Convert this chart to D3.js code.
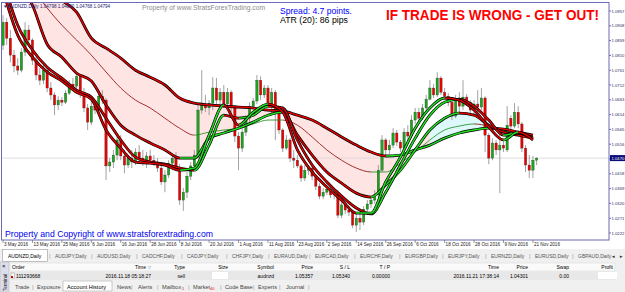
<!DOCTYPE html>
<html><head><meta charset="utf-8">
<script src="https://cdn.jsdelivr.net/npm/d3@7"></script>
<style>
html,body{margin:0;padding:0;background:#fff;overflow:hidden}
svg{display:block;font-family:"Liberation Sans",Arial,sans-serif}
</style></head><body>
<svg id="chart" width="625" height="292"></svg>
<script>
// AUDNZD daily, 3 May 2016 .. 22 Nov 2016
const opens = [1.0844,1.0920,1.0867,1.0811,1.0775,1.0761,1.0821,1.0894,1.0861,1.0794,1.0745,1.0728,1.0761,1.0702,1.0679,1.0646,1.0662,1.0655,1.0685,1.0715,1.0708,1.0741,1.0688,1.0636,1.0589,1.0642,1.0629,1.0675,1.0662,1.0444,1.0457,1.0480,1.0530,1.0477,1.0447,1.0470,1.0457,1.0490,1.0470,1.0463,1.0477,1.0463,1.0457,1.0437,1.0391,1.0414,1.0453,1.0470,1.0440,1.0331,1.0357,1.0410,1.0444,1.0480,1.0629,1.0649,1.0636,1.0652,1.0702,1.0662,1.0688,1.0649,1.0688,1.0636,1.0543,1.0503,1.0556,1.0602,1.0642,1.0659,1.0728,1.0679,1.0702,1.0649,1.0688,1.0629,1.0563,1.0503,1.0530,1.0470,1.0463,1.0444,1.0404,1.0430,1.0437,1.0410,1.0377,1.0344,1.0357,1.0367,1.0348,1.0357,1.0281,1.0315,1.0298,1.0291,1.0248,1.0271,1.0258,1.0301,1.0318,1.0331,1.0348,1.0430,1.0530,1.0497,1.0513,1.0553,1.0523,1.0503,1.0556,1.0543,1.0596,1.0622,1.0602,1.0636,1.0665,1.0702,1.0679,1.0735,1.0688,1.0675,1.0655,1.0609,1.0662,1.0642,1.0672,1.0655,1.0629,1.0649,1.0639,1.0669,1.0546,1.0470,1.0520,1.0497,1.0513,1.0497,1.0602,1.0576,1.0622,1.0583,1.0503,1.0447,1.0430,1.0463]
const highs = [1.0943,1.0933,1.0894,1.0828,1.0801,1.0834,1.0920,1.0910,1.0867,1.0811,1.0768,1.0778,1.0768,1.0722,1.0688,1.0675,1.0672,1.0695,1.0728,1.0735,1.0754,1.0748,1.0702,1.0649,1.0662,1.0662,1.0688,1.0695,1.0669,1.0470,1.0497,1.0546,1.0546,1.0497,1.0480,1.0497,1.0503,1.0513,1.0497,1.0490,1.0497,1.0480,1.0470,1.0453,1.0430,1.0463,1.0480,1.0490,1.0450,1.0371,1.0424,1.0457,1.0497,1.0646,1.0761,1.0679,1.0662,1.0738,1.0735,1.0702,1.0712,1.0702,1.0695,1.0646,1.0556,1.0569,1.0612,1.0655,1.0669,1.0745,1.0741,1.0712,1.0712,1.0702,1.0695,1.0636,1.0569,1.0546,1.0536,1.0497,1.0480,1.0450,1.0447,1.0447,1.0447,1.0417,1.0387,1.0371,1.0377,1.0377,1.0371,1.0364,1.0324,1.0321,1.0311,1.0298,1.0285,1.0285,1.0311,1.0331,1.0344,1.0364,1.0447,1.0546,1.0536,1.0530,1.0569,1.0563,1.0530,1.0569,1.0579,1.0612,1.0636,1.0636,1.0649,1.0679,1.0728,1.0715,1.0754,1.0741,1.0702,1.0685,1.0662,1.0679,1.0688,1.0728,1.0682,1.0662,1.0662,1.0695,1.0702,1.0675,1.0553,1.0536,1.0530,1.0563,1.0530,1.0642,1.0612,1.0652,1.0642,1.0589,1.0513,1.0480,1.0477,1.0473]
const lows = [1.0828,1.0844,1.0787,1.0754,1.0745,1.0754,1.0808,1.0844,1.0778,1.0728,1.0712,1.0715,1.0688,1.0662,1.0612,1.0629,1.0642,1.0649,1.0679,1.0695,1.0702,1.0669,1.0622,1.0563,1.0579,1.0616,1.0622,1.0649,1.0397,1.0424,1.0437,1.0463,1.0463,1.0420,1.0437,1.0437,1.0447,1.0457,1.0444,1.0437,1.0450,1.0444,1.0424,1.0381,1.0357,1.0404,1.0430,1.0430,1.0315,1.0295,1.0338,1.0397,1.0430,1.0470,1.0616,1.0622,1.0612,1.0629,1.0649,1.0642,1.0636,1.0629,1.0622,1.0523,1.0430,1.0490,1.0543,1.0589,1.0629,1.0649,1.0662,1.0669,1.0636,1.0612,1.0530,1.0550,1.0490,1.0497,1.0457,1.0437,1.0437,1.0391,1.0394,1.0414,1.0397,1.0364,1.0334,1.0334,1.0348,1.0338,1.0334,1.0271,1.0271,1.0285,1.0278,1.0238,1.0225,1.0232,1.0248,1.0291,1.0305,1.0318,1.0338,1.0424,1.0477,1.0483,1.0503,1.0510,1.0490,1.0497,1.0530,1.0536,1.0583,1.0589,1.0596,1.0629,1.0662,1.0669,1.0672,1.0679,1.0662,1.0642,1.0596,1.0602,1.0622,1.0629,1.0642,1.0612,1.0616,1.0622,1.0629,1.0490,1.0450,1.0463,1.0480,1.0354,1.0490,1.0490,1.0563,1.0569,1.0569,1.0490,1.0424,1.0404,1.0404,1.0447]
const closes = [1.0920,1.0867,1.0811,1.0775,1.0761,1.0821,1.0894,1.0861,1.0794,1.0745,1.0728,1.0761,1.0702,1.0679,1.0646,1.0662,1.0655,1.0685,1.0715,1.0708,1.0741,1.0688,1.0636,1.0589,1.0642,1.0629,1.0675,1.0662,1.0444,1.0457,1.0480,1.0530,1.0477,1.0447,1.0470,1.0457,1.0490,1.0470,1.0463,1.0477,1.0463,1.0457,1.0437,1.0391,1.0414,1.0453,1.0470,1.0440,1.0331,1.0357,1.0410,1.0444,1.0480,1.0629,1.0649,1.0636,1.0652,1.0702,1.0662,1.0688,1.0649,1.0688,1.0636,1.0543,1.0503,1.0556,1.0602,1.0642,1.0659,1.0728,1.0679,1.0702,1.0649,1.0688,1.0629,1.0563,1.0503,1.0530,1.0470,1.0463,1.0444,1.0404,1.0430,1.0437,1.0410,1.0377,1.0344,1.0357,1.0367,1.0348,1.0357,1.0281,1.0315,1.0298,1.0291,1.0248,1.0271,1.0258,1.0301,1.0318,1.0331,1.0348,1.0430,1.0530,1.0497,1.0513,1.0553,1.0523,1.0503,1.0556,1.0543,1.0596,1.0622,1.0602,1.0636,1.0665,1.0702,1.0679,1.0735,1.0688,1.0675,1.0655,1.0609,1.0662,1.0642,1.0672,1.0655,1.0629,1.0649,1.0639,1.0669,1.0546,1.0470,1.0520,1.0497,1.0513,1.0503,1.0579,1.0576,1.0622,1.0583,1.0503,1.0447,1.0430,1.0463,1.0470]

// moving averages, read every 4th bar
const maFast = [1.1026,1.0877,1.0804,1.0755,1.0725,1.0688,1.0665,1.0563,1.0503,1.0457,1.0453,1.0447,1.0430,1.0437,1.0546,1.0646,1.0579,1.0622,1.0649,1.0622,1.0497,1.0424,1.0374,1.0331,1.0288,1.0288,1.0391,1.0473,1.0569,1.0636,1.0669,1.0662,1.0629,1.0573,1.0530,1.0556,1.0530]
const maFast2 = [1.1059,1.0910,1.0828,1.0771,1.0735,1.0695,1.0672,1.0602,1.0530,1.0473,1.0457,1.0450,1.0437,1.0430,1.0513,1.0612,1.0602,1.0612,1.0642,1.0636,1.0530,1.0447,1.0391,1.0344,1.0305,1.0285,1.0357,1.0447,1.0536,1.0612,1.0655,1.0665,1.0642,1.0596,1.0546,1.0553,1.0536]
const maMedium = [1.1125,1.1059,1.0976,1.0847,1.0804,1.0751,1.0725,1.0646,1.0579,1.0546,1.0520,1.0497,1.0470,1.0470,1.0536,1.0553,1.0569,1.0589,1.0612,1.0622,1.0546,1.0480,1.0424,1.0387,1.0354,1.0341,1.0381,1.0430,1.0497,1.0563,1.0602,1.0619,1.0612,1.0579,1.0556,1.0546,1.0536]
const maSlow = [1.1192,1.1142,1.1092,1.1043,1.0993,1.0953,1.0867,1.0834,1.0801,1.0761,1.0738,1.0712,1.0669,1.0652,1.0646,1.0642,1.0639,1.0636,1.0629,1.0626,1.0612,1.0596,1.0569,1.0540,1.0513,1.0490,1.0477,1.0480,1.0497,1.0513,1.0536,1.0553,1.0563,1.0569,1.0566,1.0556,1.0546]
const maThin = [1.1159,1.1099,1.1033,1.0967,1.0910,1.0861,1.0811,1.0755,1.0702,1.0662,1.0636,1.0602,1.0569,1.0546,1.0556,1.0563,1.0569,1.0583,1.0596,1.0596,1.0579,1.0540,1.0497,1.0463,1.0437,1.0424,1.0424,1.0453,1.0490,1.0530,1.0563,1.0576,1.0583,1.0576,1.0563,1.0553,1.0543]

const priceTicks = [1.0957,1.0908,1.0859,1.0810,1.0761,1.0712,1.0663,1.0614,1.0565,1.0516,1.0467,1.0418,1.0369,1.0320,1.0271,1.0222]
const dateBars = [0,8,16,24,32,40,48,56,64,72,80,88,96,104,112,120,128,136,144]
const dateLabels = ["3 May 2016","13 May 2016","25 May 2016","6 Jun 2016","16 Jun 2016","28 Jun 2016","8 Jul 2016","20 Jul 2016","1 Aug 2016","11 Aug 2016","23 Aug 2016","2 Sep 2016","14 Sep 2016","26 Sep 2016","6 Oct 2016","18 Oct 2016","28 Oct 2016","9 Nov 2016","21 Nov 2016"]

const chartTabs = ["AUDNZD,Daily","AUDJPY,Daily","AUDUSD,Daily","CADCHF,Daily","CADJPY,Daily","CHFJPY,Daily","EURAUD,Daily","EURCAD,Daily","EURCHF,Daily","EURGBP,Daily","EURJPY,Daily","EURNZD,Daily","EURUSD,Daily","GBPAUD,Daily"]
const chartTabX = [8,55,97,142,187,232,274,315,360,405,448,491,535,578]
const headCols = ["Order","Time","Type","Size","Symbol","Price","S / L","T / P","Time","Price","Swap","Profit"]
const rowCells = ["111293668","2016.11.18 05:18:27","sell","","audnzd","1.05357","1.05340","0.00000","2016.11.21 17:38:14","1.04301","0.00",""]
const colRight = [null,146,185,228,274,313,350,390,499,528,569,613]
const termTabs = ["Trade","Exposure","Account History","News","Alerts","Mailbox","Market","Code Base","Experts","Journal"]
const termTabX = [15,37,67,117,138,162,193,225,258,286]

const svg = d3.select("#chart")
const W = 625, H = 292
const plotR = 609, plotT = 3, plotB = 240

const x = d3.scaleLinear().domain([0, 145]).range([3, 536.6])
const y = d3.scaleLinear().domain([1.0222, 1.0957]).range([233, 11])
const maIdx = d3.range(0, 145, 4)

const defs = svg.append("defs")
defs.append("clipPath").attr("id", "plotClip")
    .append("rect").attr("x", 2).attr("y", plotT).attr("width", plotR - 2).attr("height", plotB - plotT)

function slopeGradient(id, vals, up, down) {
    const g = defs.append("linearGradient").attr("id", id)
        .attr("gradientUnits", "userSpaceOnUse")
        .attr("x1", 0).attr("x2", W).attr("y1", 0).attr("y2", 0)
    for (let k = 0; k < vals.length - 1; k++) {
        const col = vals[k + 1] >= vals[k] ? up : down
        g.append("stop").attr("offset", k === 0 ? 0 : x(maIdx[k]) / W).attr("stop-color", col)
        g.append("stop").attr("offset", k === vals.length - 2 ? 1 : x(maIdx[k + 1]) / W).attr("stop-color", col)
    }
    return `url(#${id})`
}

svg.append("rect").attr("width", W).attr("height", H).attr("fill", "#fff")

const plot = svg.append("g").attr("clip-path", "url(#plotClip)")

// cloud between slow and medium
const cloud = defs.append("linearGradient").attr("id", "cloudFill")
    .attr("gradientUnits", "userSpaceOnUse").attr("x1", 0).attr("x2", W).attr("y1", 0).attr("y2", 0)
maIdx.forEach((b, k) => {
    if (k === maIdx.length - 1) return
    const col = maSlow[k] >= maMedium[k] ? "#ffe4e4" : "#ddf9fb"
    cloud.append("stop").attr("offset", k === 0 ? 0 : x(b) / W).attr("stop-color", col)
    cloud.append("stop").attr("offset", k === maIdx.length - 2 ? 1 : x(maIdx[k + 1]) / W).attr("stop-color", col)
})
plot.append("path")
    .datum(maIdx.map((b, k) => k))
    .attr("d", d3.area().x(k => x(maIdx[k])).y0(k => y(maSlow[k])).y1(k => y(maMedium[k])).curve(d3.curveMonotoneX))
    .attr("fill", "url(#cloudFill)")

// bid line
const lastClose = closes[closes.length - 1]
plot.append("line").attr("x1", 2).attr("x2", plotR).attr("y1", y(lastClose)).attr("y2", y(lastClose))
    .attr("stroke", "#d4d4d4").attr("stroke-width", 0.8)

// header
svg.append("text").attr("x", 4).attr("y", 8).attr("font-size", 4.6).attr("fill", "#1a1a70")
    .text("\u25BE AUDNZD,Daily  1.04798 1.04820 1.04768 1.04794")

// candles
const candles = plot.append("g")
closes.forEach((c, i) => {
    const o = opens[i]
    candles.append("line").attr("x1", x(i)).attr("x2", x(i)).attr("y1", y(highs[i])).attr("y2", y(lows[i]))
        .attr("stroke", "#8a8a8a").attr("stroke-width", 0.8)
    const top = y(Math.max(o, c)), bot = y(Math.min(o, c))
    candles.append("rect").attr("x", x(i) - 1.2).attr("width", 2.4)
        .attr("y", top).attr("height", Math.max(0.8, bot - top))
        .attr("fill", c >= o ? "#1aa51a" : "#ee0000")
        .attr("stroke", "#333").attr("stroke-width", 0.3)
})

// moving averages
const maLine = d3.line().x((d, k) => x(maIdx[k])).y(d => y(d)).curve(d3.curveMonotoneX)
function thickMA(vals, id) {
    plot.append("path").attr("d", maLine(vals)).attr("fill", "none").attr("stroke", "#000").attr("stroke-width", 2.8)
    plot.append("path").attr("d", maLine(vals)).attr("fill", "none")
        .attr("stroke", slopeGradient(id, vals, "#22dd22", "#e00000")).attr("stroke-width", 1.5)
}
plot.append("path").attr("d", maLine(maThin)).attr("fill", "none")
    .attr("stroke", slopeGradient("gThin", maThin, "#138a13", "#8a0000")).attr("stroke-width", 0.8)
thickMA(maSlow, "gSlow")
thickMA(maMedium, "gMed")
thickMA(maFast2, "gFast2")
thickMA(maFast, "gFast")

// frame
svg.append("rect").attr("x", 1.5).attr("y", 2.5).attr("width", plotR - 1.5).attr("height", plotB - 2.5)
    .attr("fill", "none").attr("stroke", "#6b6bb8").attr("stroke-width", 1)

// price axis
const yAxis = svg.append("g")
priceTicks.forEach(p => {
    yAxis.append("line").attr("x1", plotR).attr("x2", plotR + 2).attr("y1", y(p)).attr("y2", y(p)).attr("stroke", "#6b6bb8")
    yAxis.append("text").attr("x", plotR + 2.5).attr("y", y(p) + 1.5).attr("font-size", 4.2).attr("fill", "#2a2a60").text(p.toFixed(4))
})
yAxis.append("rect").attr("x", plotR + 1).attr("y", y(lastClose) - 3).attr("width", 15).attr("height", 6).attr("fill", "#0a0a78")
yAxis.append("text").attr("x", plotR + 2.5).attr("y", y(lastClose) + 1.5).attr("font-size", 4.2).attr("fill", "#fff").text(lastClose.toFixed(4))

// date axis
dateBars.forEach((b, k) => {
    svg.append("line").attr("x1", x(b)).attr("x2", x(b)).attr("y1", plotB).attr("y2", plotB + 3).attr("stroke", "#555").attr("stroke-width", 0.6)
    svg.append("text").attr("x", x(b) + 1).attr("y", 246).attr("font-size", 4.6).attr("fill", "#222").text(dateLabels[k])
})

// overlay texts
svg.append("text").attr("x", 142).attr("y", 10).attr("font-size", 7.4).attr("fill", "#8c8c8c")
    .attr("textLength", 123).attr("lengthAdjust", "spacingAndGlyphs").text("Property of www.StratsForexTrading.com")
svg.append("text").attr("x", 280).attr("y", 14).attr("font-size", 8.4).attr("fill", "#0000ff")
    .attr("textLength", 72).attr("lengthAdjust", "spacingAndGlyphs").text("Spread: 4.7 points.")
svg.append("text").attr("x", 280).attr("y", 23).attr("font-size", 8.4).attr("fill", "#000")
    .attr("textLength", 68).attr("lengthAdjust", "spacingAndGlyphs").text("ATR (20): 86 pips")
svg.append("text").attr("x", 386).attr("y", 20).attr("font-size", 14.2).attr("font-weight", "bold").attr("fill", "#ff0000")
    .attr("textLength", 213).attr("lengthAdjust", "spacingAndGlyphs").text("IF TRADE IS WRONG - GET OUT!")
svg.append("text").attr("x", 5).attr("y", 236.5).attr("font-size", 9.6).attr("fill", "#0000ee")
    .attr("textLength", 208).attr("lengthAdjust", "spacingAndGlyphs").text("Property and Copyright of www.stratsforextrading.com")

// chart tabs
svg.append("rect").attr("x", 0).attr("y", 249).attr("width", W).attr("height", 13).attr("fill", "#f0f0f0")
svg.append("rect").attr("x", 2.5).attr("y", 249.5).attr("width", 45).attr("height", 12).attr("fill", "#fff").attr("stroke", "#999").attr("stroke-width", 0.6)
chartTabs.forEach((t, k) => {
    svg.append("text").attr("x", chartTabX[k]).attr("y", 258).attr("font-size", 5).attr("fill", k === 0 ? "#000" : "#555").text(t)
    if (k > 0) svg.append("text").attr("x", chartTabX[k] - 6).attr("y", 258).attr("font-size", 6).attr("fill", "#999").text("|")
})
svg.append("text").attr("x", 611).attr("y", 258).attr("font-size", 4.5).attr("fill", "#333").text("\u25C4")
svg.append("text").attr("x", 619).attr("y", 258).attr("font-size", 4.5).attr("fill", "#333").text("\u25BA")

// terminal
svg.append("rect").attr("x", 0).attr("y", 262).attr("width", W).attr("height", 30).attr("fill", "#f0f0f0")
svg.append("rect").attr("x", 10).attr("y", 263).attr("width", 605).attr("height", 8).attr("fill", "#fafafa").attr("stroke", "#d8d8d8").attr("stroke-width", 0.5)
svg.append("rect").attr("x", 10).attr("y", 271.5).attr("width", 605).attr("height", 8.5).attr("fill", "#e8e8e8")
svg.append("rect").attr("x", 0).attr("y", 262).attr("width", 9).attr("height", 30).attr("fill", "#dcdcea").attr("stroke", "#aaa").attr("stroke-width", 0.4)
svg.append("text").attr("x", 2).attr("y", 268).attr("font-size", 6).attr("fill", "#000").text("\u00D7")
svg.append("text").attr("transform", "translate(7,291) rotate(-90)").attr("font-size", 4.6).attr("fill", "#000").text("Terminal")
headCols.forEach((h, k) => {
    const t = svg.append("text").attr("y", 269).attr("font-size", 5).attr("fill", "#000").text(h)
    if (colRight[k] === null) t.attr("x", 12)
    else t.attr("x", colRight[k]).attr("text-anchor", "end")
})
svg.append("text").attr("x", 148).attr("y", 269).attr("font-size", 4).attr("fill", "#666").text("\u25BD")
svg.append("rect").attr("x", 11).attr("y", 273).attr("width", 3.5).attr("height", 5).attr("fill", "#fff").attr("stroke", "#777").attr("stroke-width", 0.4)
svg.append("rect").attr("x", 11).attr("y", 276).attr("width", 2).attr("height", 2).attr("fill", "#d00")
rowCells.forEach((c, k) => {
    if (c === "") return
    const t = svg.append("text").attr("y", 278).attr("font-size", 5).attr("fill", "#000").text(c)
    if (colRight[k] === null) t.attr("x", 16)
    else t.attr("x", colRight[k] + (k === 1 ? 5 : 0)).attr("text-anchor", "end")
})
svg.append("rect").attr("x", 212).attr("y", 272).attr("width", 16).attr("height", 7).attr("fill", "#fff")
svg.append("rect").attr("x", 598).attr("y", 272).attr("width", 19).attr("height", 7).attr("fill", "#fff")

svg.append("rect").attr("x", 63).attr("y", 281).attr("width", 49).attr("height", 10).attr("fill", "#fff").attr("stroke", "#999").attr("stroke-width", 0.5)
termTabs.forEach((t, k) => {
    svg.append("text").attr("x", termTabX[k]).attr("y", 288.5).attr("font-size", 5.6).attr("fill", k === 2 ? "#000" : "#444").text(t)
})
svg.append("text").attr("x", 182).attr("y", 290).attr("font-size", 4).attr("fill", "#e00").text("1")
svg.append("text").attr("x", 210).attr("y", 290).attr("font-size", 4).attr("fill", "#e00").text("40")
;[32, 131, 157, 188, 220, 253, 279, 308].forEach(sx => {
    svg.append("text").attr("x", sx).attr("y", 288.5).attr("font-size", 6).attr("fill", "#999").text("|")
})
</script>
</body></html>
